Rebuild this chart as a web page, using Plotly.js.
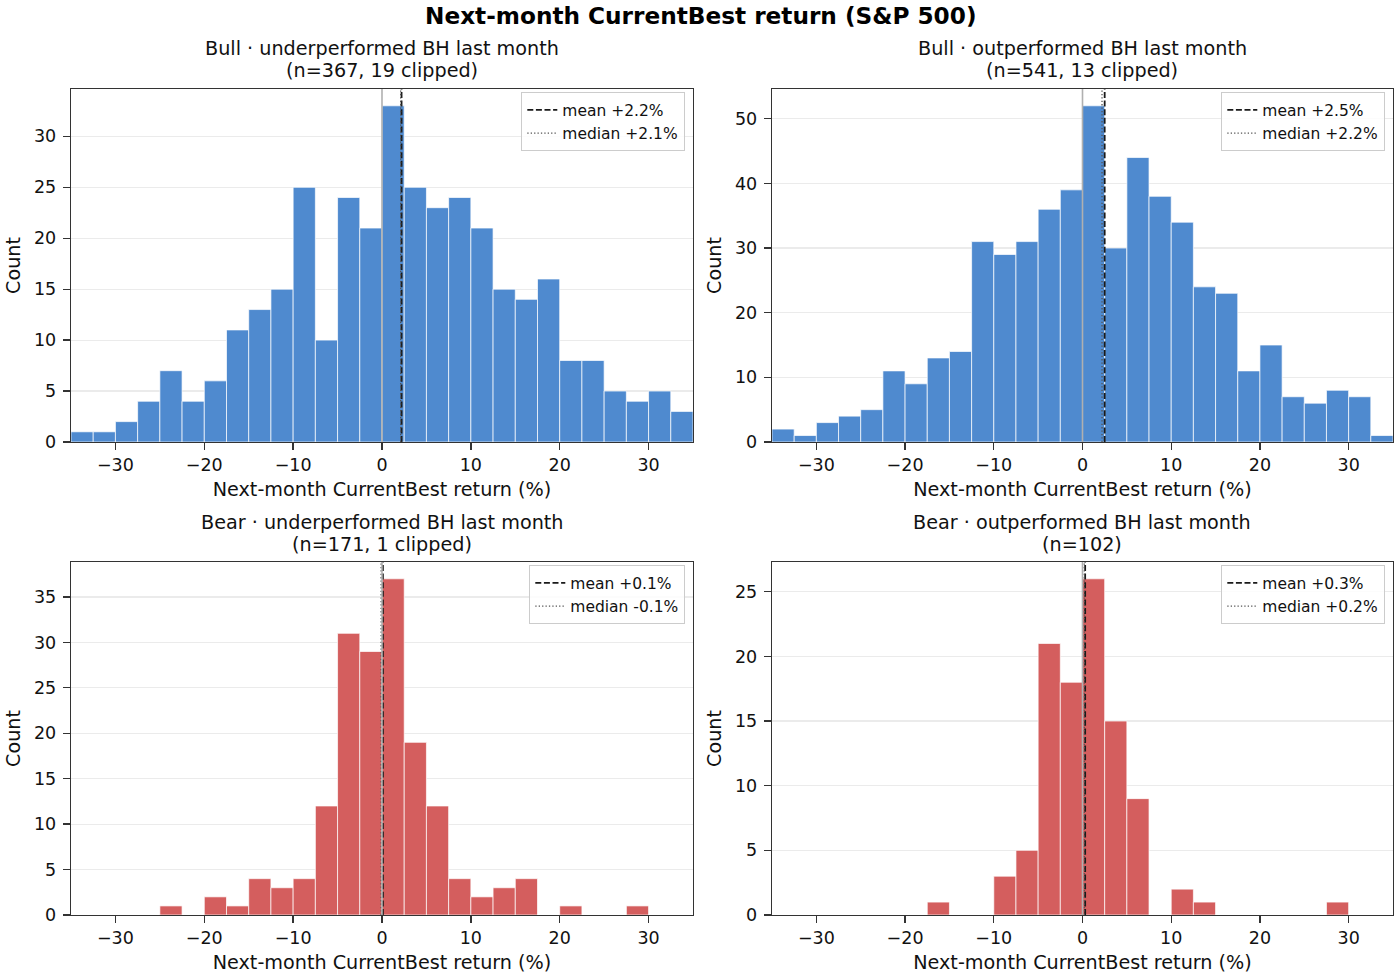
<!DOCTYPE html>
<html>
<head>
<meta charset="utf-8">
<script src="https://cdn.plot.ly/plotly-3.0.1.min.js"></script>
<style>
  html, body { margin: 0; padding: 0; background: #fff; }
  #chart { width: 1400px; height: 980px; }
</style>
</head>
<body>
<div id="chart"></div>
<script>
// bin left edges (% return), 2.5-wide bins clipped to [-35, 35]
const binLefts = [-35, -32.5, -30, -27.5, -25, -22.5, -20, -17.5, -15, -12.5, -10, -7.5, -5, -2.5,
  0, 2.5, 5, 7.5, 10, 12.5, 15, 17.5, 20, 22.5, 25, 27.5, 30, 32.5];
const binWidth = 2.5;

const bullUnderCounts = [1, 1, 2, 4, 7, 4, 6, 11, 13, 15, 25, 10, 24, 21,
  33, 25, 23, 24, 21, 15, 14, 16, 8, 8, 5, 4, 5, 3];
const bullOutCounts = [2, 1, 3, 4, 5, 11, 9, 13, 14, 31, 29, 31, 36, 39,
  52, 30, 44, 38, 34, 24, 23, 11, 15, 7, 6, 8, 7, 1];
const bearUnderCounts = [0, 0, 0, 0, 1, 0, 2, 1, 4, 3, 4, 12, 31, 29,
  37, 19, 12, 4, 2, 3, 4, 0, 1, 0, 0, 1, 0, 0];
const bearOutCounts = [0, 0, 0, 0, 0, 0, 0, 1, 0, 0, 3, 5, 21, 18,
  26, 15, 9, 0, 2, 1, 0, 0, 0, 0, 0, 1, 0, 0];

const panelTitles = ['Bull · underperformed BH last month', 'Bull · outperformed BH last month',
  'Bear · underperformed BH last month', 'Bear · outperformed BH last month'];
const panelSubtitles = ['(n=367, 19 clipped)', '(n=541, 13 clipped)', '(n=171, 1 clipped)', '(n=102)'];
const meanValues = [2.2, 2.5, 0.1, 0.3];
const medianValues = [2.1, 2.2, -0.1, 0.2];
const meanLabels = ['mean +2.2%', 'mean +2.5%', 'mean +0.1%', 'mean +0.3%'];
const medianLabels = ['median +2.1%', 'median +2.2%', 'median -0.1%', 'median +0.2%'];
const yTickSteps = [5, 10, 5, 5];

const W = 1400, H = 980;
const BLUE = '#4f8acf', RED = '#d45e5e';
const FONT = 'DejaVu Sans, Verdana, sans-serif';

const panels = [
  { counts: bullUnderCounts, color: BLUE, xd: [71, 693], yd: [89, 442] },
  { counts: bullOutCounts, color: BLUE, xd: [772, 1393], yd: [89, 442] },
  { counts: bearUnderCounts, color: RED, xd: [71, 693], yd: [562, 915] },
  { counts: bearOutCounts, color: RED, xd: [772, 1393], yd: [562, 915] },
];

const traces = [];
const layout = {
  width: W, height: H,
  margin: { l: 0, r: 0, t: 0, b: 0 },
  paper_bgcolor: '#fff', plot_bgcolor: '#fff',
  font: { family: FONT, color: '#111', size: 17 },
  bargap: 0,
  showlegend: true,
  shapes: [],
  annotations: [{
    text: '<b>Next-month CurrentBest return (S&P 500)</b>',
    xref: 'paper', yref: 'paper', x: 0.5, y: 1 - 16 / H,
    xanchor: 'center', yanchor: 'middle', showarrow: false,
    font: { size: 23.2, color: '#000' },
  }],
};

panels.forEach((p, i) => {
  const k = i === 0 ? '' : String(i + 1);
  const xa = 'x' + k, ya = 'y' + k;
  const leg = 'legend' + k;
  const yTop = Math.max(...p.counts) * 1.05;
  const xDom = [p.xd[0] / W, p.xd[1] / W];
  const yDom = [1 - p.yd[1] / H, 1 - p.yd[0] / H];

  traces.push({
    type: 'bar', x: binLefts, y: p.counts, width: binWidth, offset: 0,
    xaxis: xa, yaxis: ya, showlegend: false, hoverinfo: 'x+y',
    marker: { color: p.color, line: { color: '#ffffff', width: 0.7 } },
  });
  traces.push({
    type: 'scatter', mode: 'lines', x: [meanValues[i], meanValues[i]], y: [0, yTop],
    xaxis: xa, yaxis: ya, legend: leg, name: meanLabels[i],
    line: { color: '#1a1a1a', width: 1.8, dash: '6px,2.6px' },
  });
  traces.push({
    type: 'scatter', mode: 'lines', x: [medianValues[i], medianValues[i]], y: [0, yTop],
    xaxis: xa, yaxis: ya, legend: leg, name: medianLabels[i],
    line: { color: '#555', width: 1.3, dash: '1.3px,2.1px' },
  });

  const axisCommon = {
    showline: true, mirror: true, linecolor: '#333', linewidth: 1.3,
    ticks: 'outside', ticklen: 7, tickwidth: 1.3, tickcolor: '#333',
    tickfont: { size: 17.5, color: '#111' }, zeroline: false,
  };
  layout['xaxis' + k] = Object.assign({}, axisCommon, {
    domain: xDom, anchor: ya, range: [-35, 35], tick0: 0, dtick: 10,
    showgrid: false, ticklabelstandoff: 0,
    title: { text: 'Next-month CurrentBest return (%)', font: { size: 19.2, color: '#111' }, standoff: 8 },
  });
  layout['yaxis' + k] = Object.assign({}, axisCommon, {
    domain: yDom, anchor: xa, range: [0, yTop], tick0: 0, dtick: yTickSteps[i],
    showgrid: true, gridcolor: '#ebebeb', gridwidth: 1.2, ticklabelstandoff: 3,
    title: { text: 'Count', font: { size: 19.2, color: '#111' }, standoff: 8 },
  });
  layout[leg] = {
    x: xDom[1] - 8 / W, y: yDom[1] - 3 / H, xanchor: 'right', yanchor: 'top',
    xref: 'paper', yref: 'paper',
    bgcolor: 'rgba(255,255,255,0.85)', bordercolor: '#cccccc', borderwidth: 1.3,
    font: { size: 15.5, color: '#111' }, itemwidth: 30, tracegroupgap: 0,
  };

  layout.shapes.push({
    type: 'line', xref: xa, x0: 0, x1: 0, yref: ya + ' domain', y0: 0, y1: 1,
    line: { color: '#b0b0b0', width: 1.6 }, layer: 'above',
  });

  const cx = (xDom[0] + xDom[1]) / 2;
  layout.annotations.push({
    text: panelTitles[i], xref: 'paper', yref: 'paper', x: cx, y: yDom[1] + 40 / H,
    xanchor: 'center', yanchor: 'middle', showarrow: false,
    font: { size: 19.2, color: '#111' },
  });
  layout.annotations.push({
    text: panelSubtitles[i], xref: 'paper', yref: 'paper', x: cx, y: yDom[1] + 18 / H,
    xanchor: 'center', yanchor: 'middle', showarrow: false,
    font: { size: 19.2, color: '#111' },
  });
});

Plotly.newPlot('chart', traces, layout, { displayModeBar: false, staticPlot: true });
</script>
</body>
</html>
